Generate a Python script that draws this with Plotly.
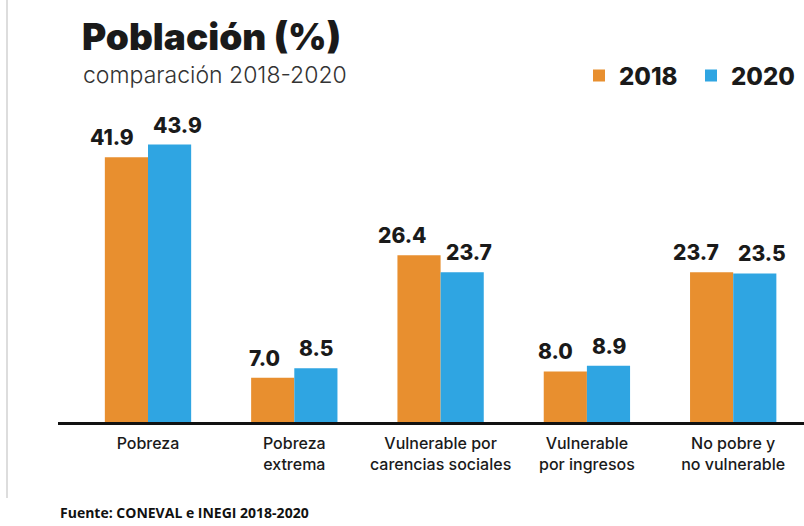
import plotly.graph_objects as go

categories = ["Pobreza", "Pobreza<br>extrema", "Vulnerable por<br>carencias sociales",
              "Vulnerable<br>por ingresos", "No pobre y<br>no vulnerable"]
values_2018 = [41.9, 7.0, 26.4, 8.0, 23.7]
values_2020 = [43.9, 8.5, 23.7, 8.9, 23.5]
series_names = ["2018", "2020"]
colors = ["#E88F2F", "#2FA5E2"]

W, H = 804, 526
ML, MR, MT, MB = 58, 0, 130, 104
plot_w = W - ML - MR
plot_h = H - MT - MB
px_per_cat = 146.3
first_center_px = 148 - ML
x0 = -first_center_px / px_per_cat
x1 = x0 + plot_w / px_per_cat
ymax = plot_h / 6.32

xs = list(range(len(categories)))
fig = go.Figure()
for name, vals, col in zip(series_names, [values_2018, values_2020], colors):
    fig.add_trace(go.Bar(x=xs, y=vals, name=name, marker=dict(color=col, line=dict(width=0)),
                         hoverinfo="skip"))

value_font = dict(family="Inter", size=21, color="#1a1a1a", weight=800)
annotations = []
for xi, v in zip(xs, values_2018):
    annotations.append(dict(x=xi, y=v, xref="x", yref="y", text=f"{v:.1f}", showarrow=False,
                            xanchor="right", xshift=-12, yanchor="bottom", yshift=5, font=value_font))
for xi, v in zip(xs, values_2020):
    annotations.append(dict(x=xi, y=v, xref="x", yref="y", text=f"{v:.1f}", showarrow=False,
                            xanchor="left", xshift=3, yanchor="bottom", yshift=5, font=value_font))

px_annots = [
    dict(x=80, y=12, text="Población (%)", xanchor="left", yanchor="top",
         font=dict(family="Inter", size=37, color="#1a1a1a", weight=900)),
    dict(x=81, y=59, text="comparación 2018-2020", xanchor="left", yanchor="top",
         font=dict(family="Inter", size=23, color="#333333", weight=300)),
    dict(x=58, y=512, text="Fuente: CONEVAL e INEGI 2018-2020", xanchor="left", yanchor="middle",
         font=dict(family="Open Sans", size=14, color="#111111", weight=700)),
]
for a in px_annots:
    a.update(xref="paper", yref="paper", showarrow=False,
             x=(a["x"] - ML) / plot_w, y=(H - a["y"] - MB) / plot_h)
    annotations.append(a)

fig.update_layout(
    width=W, height=H,
    margin=dict(l=ML, r=MR, t=MT, b=MB, autoexpand=False),
    paper_bgcolor="white", plot_bgcolor="white",
    barmode="group", bargap=0.41, bargroupgap=0,
    xaxis=dict(range=[x0, x1], tickvals=xs, ticktext=categories, showgrid=False, zeroline=False,
               showline=True, linecolor="#111111", linewidth=3, ticks="", fixedrange=True,
               ticklabelstandoff=5, automargin=False,
               tickfont=dict(family="Inter", size=16, color="#1a1a1a", weight=500)),
    yaxis=dict(range=[0, ymax], visible=False, fixedrange=True),
    showlegend=True,
    legend=dict(orientation="h", x=(579 - ML) / plot_w, y=(H - 76 - MB) / plot_h,
                xanchor="left", yanchor="middle", bgcolor="rgba(0,0,0,0)",
                entrywidth=67, entrywidthmode="pixels",
                font=dict(family="Inter", size=24, color="#1a1a1a", weight=800),
                itemclick=False, itemdoubleclick=False),
    annotations=annotations,
    shapes=[dict(type="line", xref="paper", yref="paper",
                 x0=(7 - ML) / plot_w, x1=(7 - ML) / plot_w,
                 y0=(H - 498 - MB) / plot_h, y1=(H - 0 - MB) / plot_h,
                 line=dict(color="#BBBBBB", width=1))],
)

fig.write_html("out.html", config={"displayModeBar": False},
               post_script="document.body.style.margin='0';document.body.style.overflow='hidden';")
